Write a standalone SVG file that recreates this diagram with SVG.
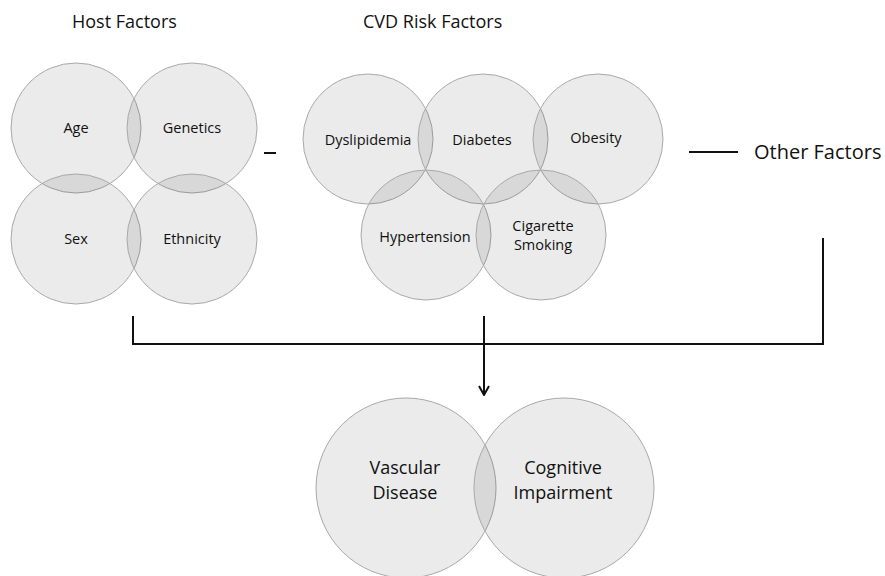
<svg xmlns="http://www.w3.org/2000/svg" width="885" height="576" viewBox="0 0 885 576">
  <defs>
    <style>
      .bubble { fill: #000; fill-opacity: 0.078; stroke: #a9a9a9; stroke-width: 1; }
      .lbl { font-family: "Open Sans", "Liberation Sans", sans-serif; font-size: 14.5px; fill: #111; text-anchor: middle; }
      .big { font-family: "Open Sans", "Liberation Sans", sans-serif; font-size: 18px; fill: #111; text-anchor: middle; }
      .head { font-family: "Open Sans", "Liberation Sans", sans-serif; font-size: 18px; fill: #111; }
      .wire { fill: none; stroke: #111; stroke-width: 2; }
    </style>
    <marker id="arrow" viewBox="0 0 12 12" refX="11" refY="6" markerWidth="12" markerHeight="12" orient="auto" markerUnits="userSpaceOnUse">
      <path d="M2,1 L11,6 L2,11" fill="none" stroke="#111" stroke-width="2"/>
    </marker>
  </defs>
  <rect width="885" height="576" fill="#fff"/>

  <!-- section headings -->
  <text class="head" x="72" y="28">Host Factors</text>
  <text class="head" x="363" y="28">CVD Risk Factors</text>

  <!-- host factors -->
  <g id="age"><circle class="bubble" cx="76" cy="128" r="65"/><text class="lbl" x="76" y="133">Age</text></g>
  <g id="genetics"><circle class="bubble" cx="192" cy="128" r="65"/><text class="lbl" x="192" y="133">Genetics</text></g>
  <g id="sex"><circle class="bubble" cx="76" cy="239" r="65"/><text class="lbl" x="76" y="244">Sex</text></g>
  <g id="ethnicity"><circle class="bubble" cx="192" cy="239" r="65"/><text class="lbl" x="192" y="244">Ethnicity</text></g>

  <!-- CVD risk factors -->
  <g id="dyslipidemia"><circle class="bubble" cx="368" cy="139" r="65"/><text class="lbl" x="368" y="145">Dyslipidemia</text></g>
  <g id="diabetes"><circle class="bubble" cx="483" cy="139" r="65"/><text class="lbl" x="482" y="145">Diabetes</text></g>
  <g id="obesity"><circle class="bubble" cx="598" cy="139" r="65"/><text class="lbl" x="596" y="143">Obesity</text></g>
  <g id="hypertension"><circle class="bubble" cx="426" cy="235" r="65"/><text class="lbl" x="425" y="242">Hypertension</text></g>
  <g id="smoking"><circle class="bubble" cx="541" cy="235" r="65"/><text class="lbl" x="543" y="231">Cigarette</text><text class="lbl" x="543" y="250">Smoking</text></g>

  <!-- other factors -->
  <g id="other"><text class="head" x="754" y="159" style="font-size:20px">Other Factors</text></g>

  <!-- outcomes -->
  <g id="vascular"><circle class="bubble" cx="406" cy="488" r="90"/><text class="big" x="405" y="474">Vascular</text><text class="big" x="405" y="499">Disease</text></g>
  <g id="cognitive"><circle class="bubble" cx="564" cy="488" r="90"/><text class="big" x="563" y="474">Cognitive</text><text class="big" x="563" y="499">Impairment</text></g>

  <!-- connectors -->
  <g id="connectors">
    <line class="wire" x1="264" y1="153" x2="276" y2="153"/>
    <line class="wire" x1="689" y1="152" x2="738" y2="152"/>
    <path class="wire" d="M133,316 V344 H823 V238"/>
    <line class="wire" x1="484" y1="316" x2="484" y2="395" marker-end="url(#arrow)"/>
  </g>
</svg>
